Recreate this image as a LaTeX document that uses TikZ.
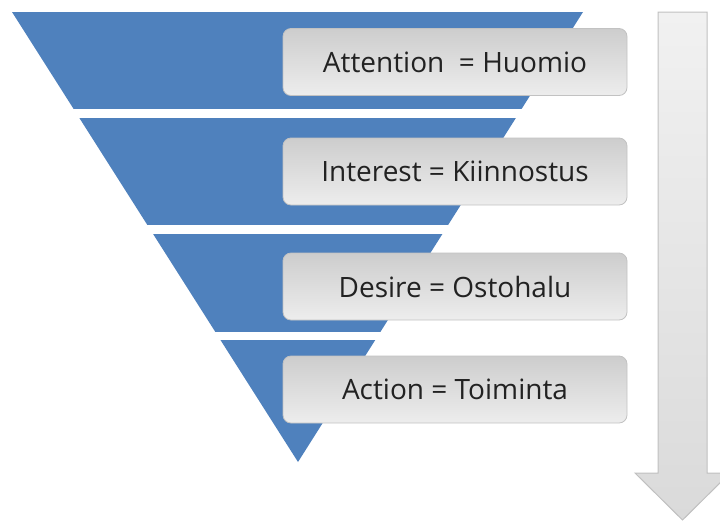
\documentclass[tikz,border=0pt]{standalone}
\usepackage{fontspec}
\setmainfont{Open Sans}
\begin{document}
\begin{tikzpicture}[x=1pt,y=-1pt,
  band/.style={fill=funnelblue},
  stagebox/.style={rounded corners=8pt, draw=boxedge, line width=0.8pt,
    top color=boxtop, bottom color=boxbottom,
    minimum width=344pt, minimum height=67pt, inner sep=0pt,
    font=\fontsize{28}{32}\selectfont, text=textdark},
  flowarrow/.style={draw=arrowedge, line width=1pt,
    top color=arrowtop, bottom color=arrowbottom}]
\definecolor{funnelblue}{HTML}{4F81BD}
\definecolor{boxtop}{HTML}{CDCDCD}
\definecolor{boxbottom}{HTML}{EDEDED}
\definecolor{boxedge}{HTML}{C2C2C2}
\definecolor{textdark}{HTML}{222222}
\definecolor{arrowtop}{HTML}{F1F1F1}
\definecolor{arrowbottom}{HTML}{DADADA}
\definecolor{arrowedge}{HTML}{C0C0C0}
\useasboundingbox (0,0) rectangle (720,520);

% funnel split into four bands
\begin{scope}
  \clip (12,12) -- (583,12) -- (298,462) -- cycle;
  \fill[band] (0,12)  rectangle (720,109);
  \fill[band] (0,118) rectangle (720,225);
  \fill[band] (0,234) rectangle (720,332);
  \fill[band] (0,340) rectangle (720,470);
\end{scope}

% downward flow arrow
\path[flowarrow] (658,12) -- (707,12) -- (707,473) -- (730,473)
  -- (682.5,520) -- (635,473) -- (658,473) -- cycle;

% stage labels
\node[stagebox] (attention) at (455,62)    {Attention\ \ = Huomio};
\node[stagebox] (interest)  at (455,171.5) {Interest = Kiinnostus};
\node[stagebox] (desire)    at (455,286.5) {Desire = Ostohalu};
\node[stagebox] (action)    at (455,389.5) {Action = Toiminta};
\end{tikzpicture}
\end{document}
